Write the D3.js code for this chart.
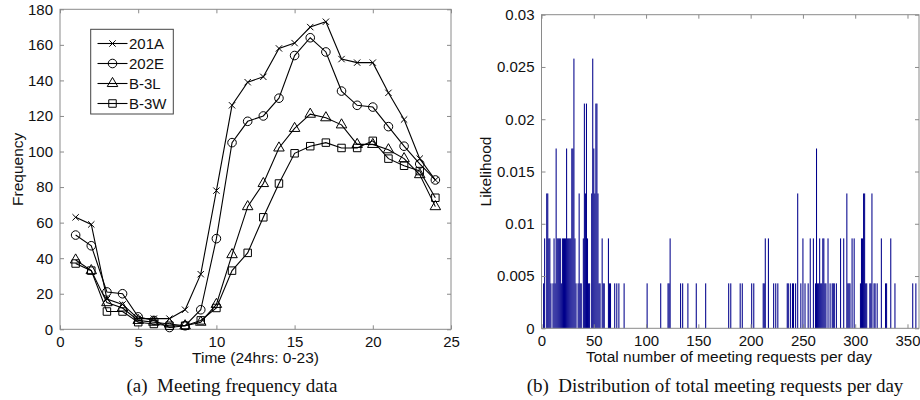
<!DOCTYPE html>
<html><head><meta charset="utf-8">
<script src="https://cdn.jsdelivr.net/npm/d3@7"></script>
<style>
body{margin:0;background:#fff;}
svg{display:block;}
text{font-family:"Liberation Sans",Arial,sans-serif;fill:#111;}
.cap{font-family:"Liberation Serif","Times New Roman",serif;}
</style></head>
<body>
<svg id="c" width="920" height="400"></svg>
<script>
// ---- Left chart data: meeting frequency by hour ----
const hours = [1,2,3,4,5,6,7,8,9,10,11,12,13,14,15,16,17,18,19,20,21,22,23,24];
const s201A = [63,59,17,14,6,6,6,11,31,78,126,139,142,158,161,170,173,152,150,150,133,118,96,84];
const s202E = [53,47,21,20,7,5,1,2,11,51,105,117,120,130,154,164,156,134,126,125,114,103,93,84];
const sB3L  = [39,33,15,12,5,4,3,2,4,14,42,69,82,102,113,121,119,115,104,104,101,96,87,69];
const sB3W  = [37,33,10,10,4,3,2,2,5,12,33,43,63,82,99,103,105,102,102,106,96,92,89,74];
const seriesNames = ["201A","202E","B-3L","B-3W"];
const leftXTicks = [0,5,10,15,20,25];
const leftYTicks = [0,20,40,60,80,100,120,140,160,180];

// ---- Right chart data: distribution of total meeting requests per day ----
const histBins = [2,3,5,6,7,8,9,11,12,13,14,15,16,17,18,19,20,21,22,23,24,25,26,27,28,29,30,31,32,33,35,36,37,38,40,41,42,43,44,45,46,48,49,50,51,52,53,54,55,56,58,59,60,64,65,66,70,72,74,79,
  101,114,121,122,123,133,135,140,148,157,179,181,190,192,201,203,212,213,214,217,222,224,226,235,236,238,240,241,243,245,248,250,252,255,257,260,262,263,264,265,266,267,268,269,270,271,272,274,276,278,279,280,282,286,289,292,293,294,295,297,299,305,306,307,308,309,310,311,314,315,316,318,319,321,325,329,330,334,338,355,358];
const histLikelihood = [0.0043,0.0086,0.0129,0.0129,0.0086,0.0086,0.0043,0.0043,0.0086,0.0043,0.0172,0.0086,0.0086,0.0086,0.0086,0.0043,0.0086,0.0086,0.0086,0.0086,0.0172,0.0086,0.0086,0.0086,0.0086,0.0172,0.0172,0.0258,0.0086,0.0043,0.0043,0.0129,0.0043,0.0043,0.0086,0.0215,0.0129,0.0215,0.0086,0.0043,0.0043,0.0129,0.0258,0.0172,0.0129,0.0215,0.0215,0.0129,0.0043,0.0043,0.0086,0.0043,0.0043,0.0086,0.0043,0.0043,0.0043,0.0043,0.0043,0.0043,
  0.0043,0.0043,0.0043,0.0043,0.0086,0.0043,0.0043,0.0043,0.0043,0.0043,0.0043,0.0043,0.0043,0.0043,0.0043,0.0043,0.0043,0.0043,0.0086,0.0086,0.0043,0.0043,0.0043,0.0043,0.0043,0.0043,0.0043,0.0043,0.0043,0.0129,0.0043,0.0086,0.0043,0.0043,0.0086,0.0086,0.0043,0.0172,0.0043,0.0043,0.0086,0.0043,0.0043,0.0086,0.0086,0.0043,0.0043,0.0086,0.0043,0.0043,0.0043,0.0043,0.0043,0.0086,0.0086,0.0129,0.0043,0.0043,0.0043,0.0086,0.0086,0.0043,0.0086,0.0086,0.0129,0.0129,0.0043,0.0043,0.0043,0.0043,0.0129,0.0043,0.0043,0.0043,0.0086,0.0043,0.0043,0.0086,0.0043,0.0043,0.0043];
const rightXTicks = [0,50,100,150,200,250,300,350];
const rightYTicks = [0,0.005,0.01,0.015,0.02,0.025,0.03];
const rightYLabels = ["0","0.005","0.01","0.015","0.02","0.025","0.03"];

const svg = d3.select("#c");
const boxColor = "#8a8a8a";

function box(g, x, y) {
  const [x0,x1] = x.range(), [y0,y1] = y.range();
  g.append("rect").attr("x",x0).attr("y",y1).attr("width",x1-x0).attr("height",y0-y1)
    .attr("fill","none").attr("stroke",boxColor).attr("stroke-width",1);
}
function axes(g, x, y, xt, yt, yfmt, fs) {
  const [x0,x1] = x.range(), [y0,y1] = y.range();
  const bx = g.append("g").attr("transform",`translate(0,${y0})`)
    .call(d3.axisBottom(x).tickValues(xt).tickSizeInner(-4).tickSizeOuter(0).tickPadding(7));
  const tx = g.append("g").attr("transform",`translate(0,${y1})`)
    .call(d3.axisTop(x).tickValues(xt).tickSizeInner(-4).tickSizeOuter(0).tickFormat(""));
  const ly = g.append("g").attr("transform",`translate(${x0},0)`)
    .call(d3.axisLeft(y).tickValues(yt).tickSizeInner(-4).tickSizeOuter(0).tickPadding(7).tickFormat(yfmt));
  const ry = g.append("g").attr("transform",`translate(${x1},0)`)
    .call(d3.axisRight(y).tickValues(yt).tickSizeInner(-4).tickSizeOuter(0).tickFormat(""));
  [bx,tx,ly,ry].forEach(a=>{
    a.select(".domain").remove();
    a.selectAll(".tick line").attr("stroke",boxColor);
    a.selectAll("text").attr("font-size",fs).attr("font-family","Liberation Sans, Arial, sans-serif").attr("fill","#111");
  });
  box(g,x,y);
}

// ---------- Left chart ----------
const xL = d3.scaleLinear().domain([0,25]).range([60,451]);
const yL = d3.scaleLinear().domain([0,180]).range([329.3,9.3]);
const gL = svg.append("g");
axes(gL, xL, yL, leftXTicks, leftYTicks, d3.format("d"), 15);

const syms = [
  d3.symbol().type(d3.symbolX).size(28),
  d3.symbol().type(d3.symbolCircle).size(58),
  d3.symbol().type(d3.symbolTriangle).size(48),
  d3.symbol().type(d3.symbolSquare).size(56)
];
const allSeries = [s201A, s202E, sB3L, sB3W];
const line = d3.line().x((d,i)=>xL(hours[i])).y(d=>yL(d));
allSeries.forEach((s,k)=>{
  gL.append("path").datum(s).attr("d",line).attr("fill","none").attr("stroke","#000").attr("stroke-width",1.1);
});
allSeries.forEach((s,k)=>{
  gL.append("g").selectAll("path").data(s).join("path")
    .attr("transform",(d,i)=>`translate(${xL(hours[i])},${yL(d)})`)
    .attr("d",syms[k]).attr("fill","none").attr("stroke","#000").attr("stroke-width",1);
});
// legend
const leg = gL.append("g");
leg.append("rect").attr("x",90.7).attr("y",29.3).attr("width",82.6).attr("height",84.7)
  .attr("fill","#fff").attr("stroke","#444").attr("stroke-width",1);
seriesNames.forEach((n,k)=>{
  const yy = 43.5 + k*20;
  leg.append("line").attr("x1",97.5).attr("x2",127.5).attr("y1",yy).attr("y2",yy).attr("stroke","#000").attr("stroke-width",1.1);
  leg.append("path").attr("transform",`translate(112.5,${yy})`).attr("d",syms[k]).attr("fill","none").attr("stroke","#000");
  leg.append("text").attr("x",129).attr("y",yy).attr("dy","0.36em").attr("font-size",15).text(n);
});
gL.append("text").attr("transform",`translate(18,${(yL.range()[0]+yL.range()[1])/2}) rotate(-90)`)
  .attr("text-anchor","middle").attr("dy","0.35em").attr("font-size",15.5).text("Frequency");
gL.append("text").attr("x",xL(12.5)).attr("y",358).attr("text-anchor","middle").attr("dy","0.35em")
  .attr("font-size",15.5).text("Time (24hrs: 0-23)");
gL.append("text").attr("class","cap").attr("x",232).attr("y",385).attr("text-anchor","middle").attr("dy","0.35em")
  .attr("font-size",19).attr("xml:space","preserve").text("(a)  Meeting frequency data");

// ---------- Right chart ----------
const xR = d3.scaleLinear().domain([0,361]).range([541.5,919]);
const yR = d3.scaleLinear().domain([0,0.03]).range([328.3,14.7]);
const gR = svg.append("g");
const bw = xR(1)-xR(0);
gR.append("g").selectAll("rect").data(histBins).join("rect")
  .attr("x",(d)=>xR(d-0.5)).attr("width",bw)
  .attr("y",(d,i)=>yR(histLikelihood[i])).attr("height",(d,i)=>yR(0)-yR(histLikelihood[i]))
  .attr("fill","#00008B");
axes(gR, xR, yR, rightXTicks, rightYTicks, (d,i)=>rightYLabels[i], 15);
gR.append("text").attr("transform",`translate(486,${(yR.range()[0]+yR.range()[1])/2}) rotate(-90)`)
  .attr("text-anchor","middle").attr("dy","0.35em").attr("font-size",15.5).text("Likelihood");
gR.append("text").attr("x",729).attr("y",357).attr("text-anchor","middle").attr("dy","0.35em")
  .attr("font-size",15.5).text("Total number of meeting requests per day");
gR.append("text").attr("class","cap").attr("x",715).attr("y",385).attr("text-anchor","middle").attr("dy","0.35em")
  .attr("font-size",19).attr("xml:space","preserve").text("(b)  Distribution of total meeting requests per day");
</script>
</body></html>
